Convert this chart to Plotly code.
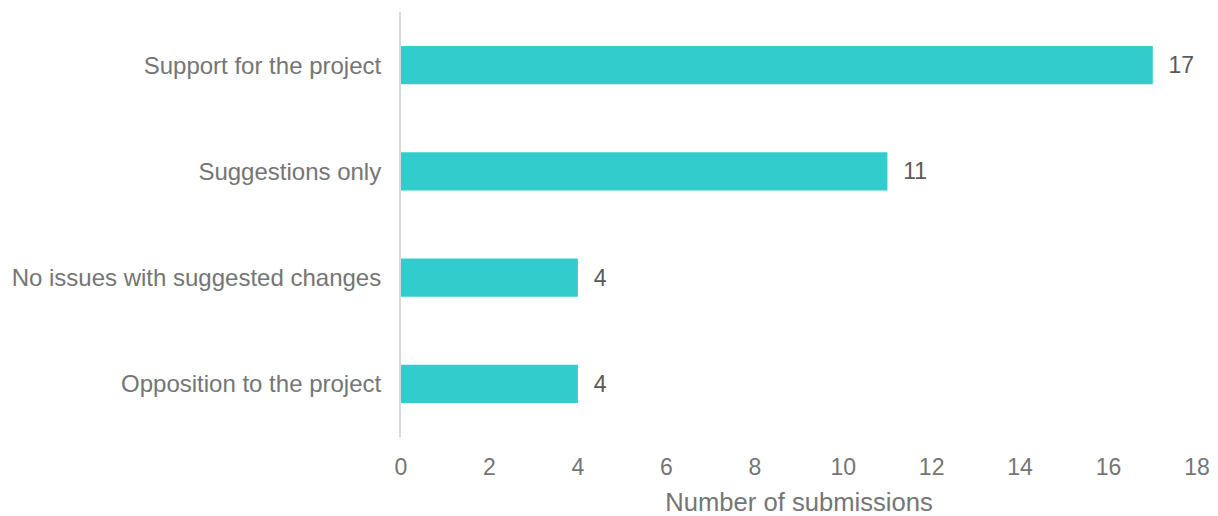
import plotly.graph_objects as go

categories = ["Support for the project", "Suggestions only", "No issues with suggested changes", "Opposition to the project"]
values = [17, 11, 4, 4]
tick_vals = [0, 2, 4, 6, 8, 10, 12, 14, 16, 18]

FONT = "Liberation Sans, Arial"

fig = go.Figure(go.Bar(
    y=categories, x=values, orientation="h",
    marker=dict(color="#33CCCC", line=dict(width=0)),
    width=0.36,
    text=values, texttemplate="  %{x}", textposition="outside",
    textfont=dict(family=FONT, size=23, color="#595959"),
    cliponaxis=False,
))

# page body has an 8px margin, so figure is 8px smaller and margins shifted
fig.update_layout(
    width=1210, height=508,
    margin=dict(l=393, r=21, t=4, b=79),
    plot_bgcolor="white", paper_bgcolor="white",
    showlegend=False,
    font=dict(family=FONT, color="#757575"),
)
fig.update_xaxes(
    range=[0, 18], tickvals=tick_vals, showgrid=False, zeroline=False,
    showline=False, ticks="", tickfont=dict(size=23, color="#757575"),
    ticklabelstandoff=14, automargin=False,
    title=dict(text="Number of submissions", font=dict(size=25.6, color="#757575"), standoff=17),
)
fig.update_yaxes(
    categoryorder="array", categoryarray=categories[::-1],
    showgrid=False, zeroline=False, showline=True, linecolor="#d9d9d9", linewidth=2,
    ticks="", tickfont=dict(size=24, color="#757575"), ticklabelstandoff=13,
    automargin=False,
)

fig.write_html("out.html")
